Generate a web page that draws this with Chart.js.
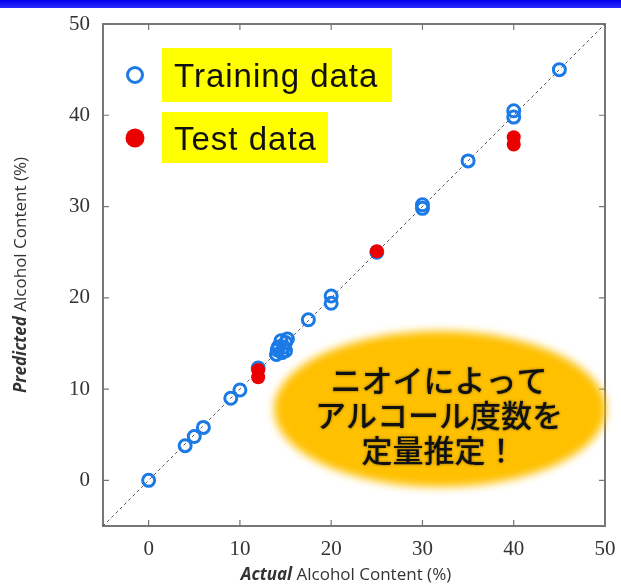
<!DOCTYPE html>
<html><head><meta charset="utf-8">
<script src="https://cdn.jsdelivr.net/npm/chart.js@4/dist/chart.umd.min.js"></script>
<style>
html,body{margin:0;padding:0;background:#fff;}
#wrap{position:relative;width:621px;height:586px;}
#bar{position:absolute;left:0;top:0;width:621px;height:8px;background:linear-gradient(#0000e8,#2a2aff);}
canvas{position:absolute;left:0;top:0;}
</style></head>
<body><div id="wrap"><canvas id="c" width="621" height="586"></canvas><div id="bar"></div></div>
<script>
const trainActual =    [0, 4, 5, 6, 9, 10, 12, 14, 14.2, 14.5, 15, 15, 14.6, 14.8, 14.1, 15.2, 17.5, 20, 20, 25, 30, 30, 35, 40, 40, 45];
const trainPredicted = [0, 3.8, 4.8, 5.8, 9, 9.9, 12.3, 13.8, 14.6, 15.3, 15.1, 14.2, 14, 14.6, 14.3, 15.5, 17.6, 19.4, 20.2, 25, 29.8, 30.2, 35, 39.8, 40.5, 45];
const testActual =     [12, 12, 25, 40, 40];
const testPredicted =  [12.1, 11.3, 25.1, 37.6, 36.8];
const diagActual = [-5, 50];
const diagPredicted = [-5, 50];
const tickValues = [0, 10, 20, 30, 40, 50];
const legendLabels = ['Training data', 'Test data'];
const xTitle = ['Actual', ' Alcohol Content (%)'];
const yTitle = ['Predicted', ' Alcohol Content (%)'];
const calloutLines = ['ニオイによって', 'アルコール度数を', '定量推定！'];

const BLUE = 'rgb(28,122,230)', RED = 'rgb(235,0,0)';
const pts = (xs, ys) => xs.map((x, i) => ({x, y: ys[i]}));

const deco = {
  id: 'deco',
  beforeDatasetsDraw(chart) {
    const ctx = chart.ctx, a = chart.chartArea, xs = chart.scales.x, ys = chart.scales.y;
    ctx.save();
    ctx.strokeStyle = '#777'; ctx.lineWidth = 2;
    ctx.strokeRect(a.left, a.top, a.right - a.left, a.bottom - a.top);
    ctx.lineWidth = 1.2; ctx.strokeStyle = '#777';
    tickValues.forEach(v => {
      const px = xs.getPixelForValue(v), py = ys.getPixelForValue(v);
      ctx.beginPath();
      ctx.moveTo(px, a.bottom); ctx.lineTo(px, a.bottom - 6);
      ctx.moveTo(px, a.top); ctx.lineTo(px, a.top + 6);
      ctx.moveTo(a.left, py); ctx.lineTo(a.left + 6, py);
      ctx.moveTo(a.right, py); ctx.lineTo(a.right - 6, py);
      ctx.stroke();
    });
    ctx.restore();
  },
  afterDatasetsDraw(chart) {
    const ctx = chart.ctx;
    ctx.save();
    ctx.filter = 'blur(4px)';
    ctx.fillStyle = '#ffc000';
    ctx.beginPath(); ctx.ellipse(440, 409, 166, 78, 0, 0, Math.PI * 2); ctx.fill();
    ctx.filter = 'none';
    ctx.font = '500 31px "Noto Sans CJK JP"';
    ctx.textAlign = 'center'; ctx.textBaseline = 'middle';
    ctx.fillStyle = '#111';
    ctx.shadowColor = 'rgba(0,0,0,0.45)'; ctx.shadowBlur = 3;
    calloutLines.forEach((t, i) => ctx.fillText(t, 439, 380 + i * 35));
    ctx.shadowBlur = 0;
    ctx.fillStyle = '#ffff00';
    ctx.fillRect(162, 48, 230, 54);
    ctx.fillRect(162, 112, 166, 51);
    ctx.fillStyle = '#111';
    ctx.font = '33px "Liberation Sans"';
    ctx.letterSpacing = '1px';
    ctx.textAlign = 'left'; ctx.textBaseline = 'alphabetic';
    ctx.fillText(legendLabels[0], 174, 87);
    ctx.fillText(legendLabels[1], 174, 150);
    ctx.letterSpacing = '0px';
    ctx.lineWidth = 3; ctx.strokeStyle = BLUE;
    ctx.beginPath(); ctx.arc(135, 75, 7.5, 0, Math.PI * 2); ctx.stroke();
    ctx.fillStyle = RED;
    ctx.beginPath(); ctx.arc(135, 138, 9.5, 0, Math.PI * 2); ctx.fill();
    ctx.fillStyle = '#333';
    const drawTitle = (parts, cx, cy, rot) => {
      ctx.save(); ctx.translate(cx, cy); ctx.rotate(rot);
      ctx.font = 'italic bold 17px "Open Sans"';
      const w1 = ctx.measureText(parts[0]).width;
      ctx.font = '17px "Open Sans"';
      const w2 = ctx.measureText(parts[1]).width;
      let x0 = -(w1 + w2) / 2;
      ctx.textBaseline = 'middle'; ctx.textAlign = 'left';
      ctx.font = 'italic bold 17px "Open Sans"'; ctx.fillText(parts[0], x0, 0);
      ctx.font = '17px "Open Sans"'; ctx.fillText(parts[1], x0 + w1, 0);
      ctx.restore();
    };
    drawTitle(xTitle, 346, 575, 0);
    drawTitle(yTitle, 21, 275, -Math.PI / 2);
    ctx.restore();
  }
};

new Chart(document.getElementById('c'), {
  type: 'scatter',
  data: {
    datasets: [
      { label: 'diag', type: 'line', data: pts(diagActual, diagPredicted), borderColor: '#555', borderWidth: 1, borderDash: [3, 3], pointRadius: 0, fill: false, order: 3 },
      { label: legendLabels[0], data: pts(trainActual, trainPredicted), pointRadius: 6, pointBorderWidth: 3, pointBackgroundColor: 'rgba(0,0,0,0)', pointBorderColor: BLUE, order: 2 },
      { label: legendLabels[1], data: pts(testActual, testPredicted), pointRadius: 7, pointBorderWidth: 0, pointBackgroundColor: RED, pointBorderColor: RED, order: 1 }
    ]
  },
  options: {
    responsive: false, animation: false, devicePixelRatio: 1,
    layout: { padding: { top: 24, right: 16, left: 0, bottom: 0 } },
    plugins: { legend: { display: false }, tooltip: { enabled: false } },
    scales: {
      x: {
        type: 'linear', min: -5, max: 50,
        afterBuildTicks: s => { s.ticks = tickValues.map(v => ({value: v})); },
        afterFit: s => { s.height = 60; s.paddingRight = 0; },
        grid: { display: false, drawTicks: false }, border: { display: false },
        ticks: { padding: 11, color: '#333', font: { family: 'Liberation Serif', size: 21 }, maxRotation: 0 }
      },
      y: {
        type: 'linear', min: -5, max: 50,
        afterBuildTicks: s => { s.ticks = tickValues.map(v => ({value: v})); },
        afterFit: s => { s.width = 103; s.paddingTop = 0; s.paddingBottom = 0; },
        grid: { display: false, drawTicks: false }, border: { display: false },
        ticks: { padding: 13, color: '#333', font: { family: 'Liberation Serif', size: 21 } }
      }
    }
  },
  plugins: [deco]
});
</script></body></html>
